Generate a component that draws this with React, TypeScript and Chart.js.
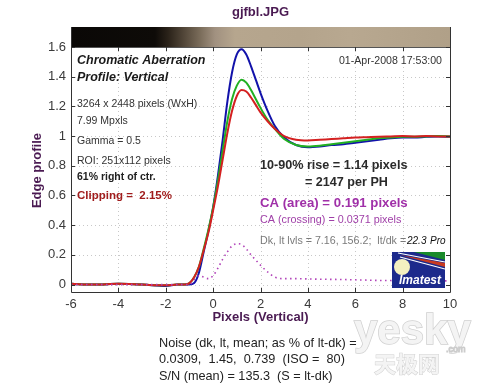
import React, { useEffect, useRef } from "react";
import { Chart, registerables } from "chart.js";
Chart.register(...registerables);

// Pixel positions (x axis values) shared by all series
const xValues = [-6, -5, -4, -3, -2, -1.5, -1.2, -1, -0.8, -0.6, -0.4, -0.2, 0, 0.2, 0.4, 0.6, 0.8, 1.0, 1.2, 1.4, 1.6, 1.8, 2.0, 2.3, 2.6, 3.0, 3.5, 4, 4.5, 5, 5.5, 6, 6.5, 7, 7.5, 8, 8.5, 9, 9.5, 10];

const redValues = [0.005, 0.0, 0.005, 0.0, -0.005, 0.0, 0.0, 0.01, 0.05, 0.12, 0.23, 0.35, 0.5, 0.66, 0.84, 1.02, 1.17, 1.27, 1.31, 1.3, 1.26, 1.21, 1.16, 1.1, 1.05, 1.0, 0.975, 0.97, 0.975, 0.98, 0.985, 0.99, 0.993, 0.996, 0.998, 1.0, 0.998, 1.0, 0.998, 0.997];
const greenValues = [0.005, 0.0, 0.005, 0.0, -0.005, 0.0, 0.0, 0.01, 0.05, 0.12, 0.24, 0.37, 0.52, 0.7, 0.9, 1.1, 1.25, 1.34, 1.38, 1.36, 1.31, 1.25, 1.19, 1.11, 1.05, 0.98, 0.94, 0.93, 0.935, 0.945, 0.955, 0.965, 0.975, 0.985, 0.99, 0.995, 0.995, 0.998, 1.0, 0.998];
const blueValues = [0.005, 0.0, 0.005, 0.0, -0.01, 0.0, 0.0, 0.0, 0.01, 0.08, 0.22, 0.36, 0.52, 0.73, 0.97, 1.23, 1.43, 1.55, 1.585, 1.55, 1.47, 1.38, 1.29, 1.17, 1.07, 0.99, 0.94, 0.925, 0.93, 0.94, 0.945, 0.955, 0.965, 0.975, 0.985, 0.99, 0.99, 0.995, 0.998, 0.995];
const caValues = [0.0, 0.0, 0.0, 0.0, 0.0, 0.0, 0.0, 0.0, 0.03, 0.06, 0.05, 0.04, 0.06, 0.11, 0.17, 0.22, 0.26, 0.275, 0.27, 0.24, 0.2, 0.165, 0.13, 0.085, 0.05, 0.04, 0.04, 0.038, 0.036, 0.035, 0.034, 0.032, 0.03, 0.028, 0.027, 0.026, 0.025, 0.025, 0.025, 0.025];

const xTickValues = [-6, -4, -2, 0, 2, 4, 6, 8, 10];
const yTickValues = [0, 0.2, 0.4, 0.6, 0.8, 1, 1.2, 1.4, 1.6];

const chartTitle = "gjfbl.JPG";
const xTitle = "Pixels (Vertical)";
const yTitle = "Edge profile";
const leftNotes = [
  { text: "Chromatic Aberration", font: "italic bold 12.5px 'Liberation Sans', Arial", color: "#1a1a1a", y: 61 },
  { text: "Profile: Vertical", font: "italic bold 12.5px 'Liberation Sans', Arial", color: "#1a1a1a", y: 78 },
  { text: "3264 x 2448 pixels (WxH)", font: "10.5px 'Liberation Sans', Arial", color: "#333", y: 104 },
  { text: "7.99 Mpxls", font: "10.5px 'Liberation Sans', Arial", color: "#333", y: 121 },
  { text: "Gamma = 0.5", font: "10.5px 'Liberation Sans', Arial", color: "#333", y: 141 },
  { text: "ROI: 251x112 pixels", font: "10.5px 'Liberation Sans', Arial", color: "#333", y: 161 },
  { text: "61% right of ctr.", font: "bold 10.5px 'Liberation Sans', Arial", color: "#222", y: 177 },
  { text: "Clipping =  2.15%", font: "bold 11.5px 'Liberation Sans', Arial", color: "#a01c1c", y: 196 },
];
const dateText = "01-Apr-2008 17:53:00";
const riseText1 = "10-90% rise = 1.14 pixels";
const riseText2 = "= 2147 per PH";
const caAreaText = "CA (area) = 0.191 pixels";
const caCrossText = "CA (crossing) = 0.0371 pixels";
const levelsText = "Dk, lt lvls = 7.16, 156.2;  lt/dk =";
const ratioText = "22.3";
const proText = "Pro";
const noiseLines = [
  "Noise (dk, lt, mean; as % of lt-dk) =",
  "0.0309,  1.45,  0.739  (ISO =  80)",
  "S/N (mean) = 135.3  (S = lt-dk)",
];

const FONT = "'Liberation Sans', Arial, sans-serif";
const PURPLE_DARK = "#4a1a52";

const decorPlugin = {
  id: "decor",
  beforeDraw(chart: any) {
    const c = chart.ctx;
    c.save();
    c.fillStyle = "#ffffff";
    c.fillRect(0, 0, chart.width, chart.height);
    c.restore();
  },
  beforeDatasetsDraw(chart: any) {
    const c = chart.ctx;
    const { left, right, top, bottom } = chart.chartArea;
    const xs = chart.scales.x;
    const ys = chart.scales.y;
    c.save();
    c.strokeStyle = "#c8c8c8";
    c.lineWidth = 1;
    c.setLineDash([1, 3]);
    xTickValues.forEach((v) => {
      const px = Math.round(xs.getPixelForValue(v)) + 0.5;
      c.beginPath();
      c.moveTo(px, top);
      c.lineTo(px, bottom);
      c.stroke();
    });
    yTickValues.forEach((v) => {
      const py = Math.round(ys.getPixelForValue(v)) + 0.5;
      c.beginPath();
      c.moveTo(left, py);
      c.lineTo(right, py);
      c.stroke();
    });
    c.restore();
  },
  afterDraw(chart: any) {
    const c = chart.ctx;
    const { left, right, top, bottom } = chart.chartArea;
    const xs = chart.scales.x;
    const ys = chart.scales.y;
    const stripTop = 27;
    c.save();
    // image strip
    const g = c.createLinearGradient(left, 0, right, 0);
    const w = right - left;
    const stop = (px: number, col: string) => g.addColorStop(Math.min(1, Math.max(0, (px - left) / w)), col);
    stop(left, "#0a0806");
    stop(155, "#0e0b08");
    stop(168, "#2a2219");
    stop(185, "#55493b");
    stop(200, "#7a6c5a");
    stop(215, "#a19180");
    stop(235, "#b6a68e");
    stop(300, "#b4a48c");
    stop(350, "#b8a890");
    stop(right, "#b0a088");
    c.fillStyle = g;
    c.fillRect(left, stripTop, w, top - stripTop);

    // frame
    c.strokeStyle = "#333";
    c.lineWidth = 1;
    c.beginPath();
    c.moveTo(left + 0.5, stripTop);
    c.lineTo(left + 0.5, bottom + 0.5);
    c.lineTo(right + 0.5, bottom + 0.5);
    c.lineTo(right + 0.5, stripTop);
    c.stroke();
    c.beginPath();
    c.moveTo(left, top + 0.5);
    c.lineTo(right, top + 0.5);
    c.strokeStyle = "#555";
    c.stroke();

    // inward tick marks
    c.strokeStyle = "#333";
    const tl = 4;
    xTickValues.forEach((v) => {
      const px = Math.round(xs.getPixelForValue(v)) + 0.5;
      c.beginPath();
      c.moveTo(px, bottom);
      c.lineTo(px, bottom - tl);
      c.moveTo(px, top);
      c.lineTo(px, top + tl);
      c.stroke();
    });
    yTickValues.forEach((v) => {
      const py = Math.round(ys.getPixelForValue(v)) + 0.5;
      c.beginPath();
      c.moveTo(left, py);
      c.lineTo(left + tl, py);
      c.moveTo(right, py);
      c.lineTo(right - tl, py);
      c.stroke();
    });

    // titles
    c.fillStyle = PURPLE_DARK;
    c.font = `bold 13px ${FONT}`;
    c.textAlign = "center";
    c.textBaseline = "middle";
    c.fillText(chartTitle, (left + right) / 2, 12);
    c.fillText(xTitle, (left + right) / 2, 317);
    c.save();
    c.translate(37, (top + bottom) / 2 + 1);
    c.rotate(-Math.PI / 2);
    c.fillText(yTitle, 0, 0);
    c.restore();

    // left notes
    c.textAlign = "left";
    leftNotes.forEach((n) => {
      c.font = n.font;
      c.fillStyle = n.color;
      c.fillText(n.text, 77, n.y);
    });

    // date
    c.font = `10.6px ${FONT}`;
    c.fillStyle = "#333";
    c.textAlign = "right";
    c.fillText(dateText, 442, 61);

    // rise text
    c.textAlign = "left";
    c.font = `bold 12.6px ${FONT}`;
    c.fillStyle = "#2a2a2a";
    c.fillText(riseText1, 260, 166);
    c.fillText(riseText2, 305, 183);
    c.font = `bold 13.2px ${FONT}`;
    c.fillStyle = "#a030a8";
    c.fillText(caAreaText, 260, 203);
    c.font = `10.8px ${FONT}`;
    c.fillStyle = "#a040a8";
    c.fillText(caCrossText, 260, 220);
    c.font = `10.7px ${FONT}`;
    c.fillStyle = "#7a7a7a";
    c.fillText(levelsText, 260, 241);
    c.font = `italic 10px ${FONT}`;
    c.fillStyle = "#111";
    c.fillText(ratioText, 407, 241);
    c.fillText(proText, 430, 241);

    // Imatest logo
    const lx = 392, ly = 252, lw = 53, lh = 36;
    c.fillStyle = "#1c2a8c";
    c.fillRect(lx, ly, lw, lh);
    c.save();
    c.beginPath();
    c.rect(lx, ly, lw, lh);
    c.clip();
    c.fillStyle = "#1a8a2a";
    c.beginPath();
    c.moveTo(lx + 22, ly);
    c.lineTo(lx + lw, ly);
    c.lineTo(lx + lw, ly + 8);
    c.closePath();
    c.fill();
    c.strokeStyle = "#ffffff";
    c.lineWidth = 1.2;
    c.beginPath();
    c.moveTo(lx + 6, ly + 1);
    c.lineTo(lx + lw, ly + 10);
    c.stroke();
    c.fillStyle = "#c83a20";
    c.beginPath();
    c.moveTo(lx + 8, ly + 3);
    c.lineTo(lx + lw, ly + 11);
    c.lineTo(lx + lw, ly + 15);
    c.closePath();
    c.fill();
    c.beginPath();
    c.moveTo(lx + 8, ly + 5);
    c.lineTo(lx + lw, ly + 17);
    c.stroke();
    c.restore();
    c.fillStyle = "#f4f0c0";
    c.beginPath();
    c.arc(lx + 10, ly + 15, 8, 0, Math.PI * 2);
    c.fill();
    c.fillStyle = "#ffffff";
    c.font = `italic bold 12px ${FONT}`;
    c.textAlign = "center";
    c.fillText("Imatest", lx + 28, ly + 29);

    // noise notes
    c.textAlign = "left";
    c.font = `12.7px ${FONT}`;
    c.fillStyle = "#222";
    noiseLines.forEach((t, i) => c.fillText(t, 159, 343 + i * 16.5));

    // watermark
    c.strokeStyle = "#d0d0d0";
    c.fillStyle = "#f4f4f4";
    c.lineWidth = 1.5;
    c.font = `bold 42px ${FONT}`;
    c.textAlign = "left";
    c.textBaseline = "alphabetic";
    c.strokeText("yesky", 354, 344);
    c.fillText("yesky", 354, 344);
    c.font = `bold 22px 'Noto Sans CJK SC'`;
    c.lineWidth = 1;
    c.strokeText("天极网", 374, 372);
    c.fillText("天极网", 374, 372);
    c.font = `9px ${FONT}`;
    c.strokeStyle = "#ccc";
    c.strokeText(".com", 446, 352);
    c.restore();
  },
};

export default function App() {
  const ref = useRef<HTMLCanvasElement>(null);
  useEffect(() => {
    document.body.style.margin = "0";
    const canvas = ref.current!;
    const mk = (vals: number[]) => xValues.map((x, i) => ({ x, y: vals[i] }));
    const chart = new Chart(canvas, {
      type: "line",
      data: {
        datasets: [
          { label: "CA", data: mk(caValues), borderColor: "#b040b8", borderWidth: 1.6, borderDash: [1.5, 3.5], pointRadius: 0, cubicInterpolationMode: "monotone" },
          { label: "Red", data: mk(redValues), borderColor: "#d42020", borderWidth: 2, pointRadius: 0, cubicInterpolationMode: "monotone" },
          { label: "Green", data: mk(greenValues), borderColor: "#22b022", borderWidth: 2, pointRadius: 0, cubicInterpolationMode: "monotone" },
          { label: "Blue", data: mk(blueValues), borderColor: "#1212aa", borderWidth: 2, pointRadius: 0, cubicInterpolationMode: "monotone" },
        ],
      },
      options: {
        animation: false,
        responsive: false,
        maintainAspectRatio: false,
        layout: { padding: { top: 47, left: 0, right: 50, bottom: 72 } },
        plugins: { legend: { display: false }, tooltip: { enabled: false }, title: { display: false } },
        scales: {
          x: {
            type: "linear",
            min: -6,
            max: 10,
            afterFit: (s: any) => { s.height = 20; },
            afterBuildTicks: (s: any) => { s.ticks = xTickValues.map((v) => ({ value: v })); },
            grid: { display: false, drawTicks: false },
            border: { display: false },
            ticks: { padding: 5, color: "#3a3a3a", font: { family: FONT, size: 13 }, callback: (v: any) => String(v) },
          },
          y: {
            type: "linear",
            min: -0.05,
            max: 1.6,
            afterFit: (s: any) => { s.width = 71; },
            afterBuildTicks: (s: any) => { s.ticks = yTickValues.map((v) => ({ value: v })); },
            grid: { display: false, drawTicks: false },
            border: { display: false },
            ticks: { padding: 5, color: "#3a3a3a", font: { family: FONT, size: 13 }, callback: (v: any) => String(Number(Number(v).toFixed(1))) },
          },
        },
      },
      plugins: [decorPlugin],
    } as any);
    return () => chart.destroy();
  }, []);
  return (
    <div style={{ width: 500, height: 384, background: "#fff" }}>
      <canvas ref={ref} width={500} height={384} style={{ display: "block" }} />
    </div>
  );
}
